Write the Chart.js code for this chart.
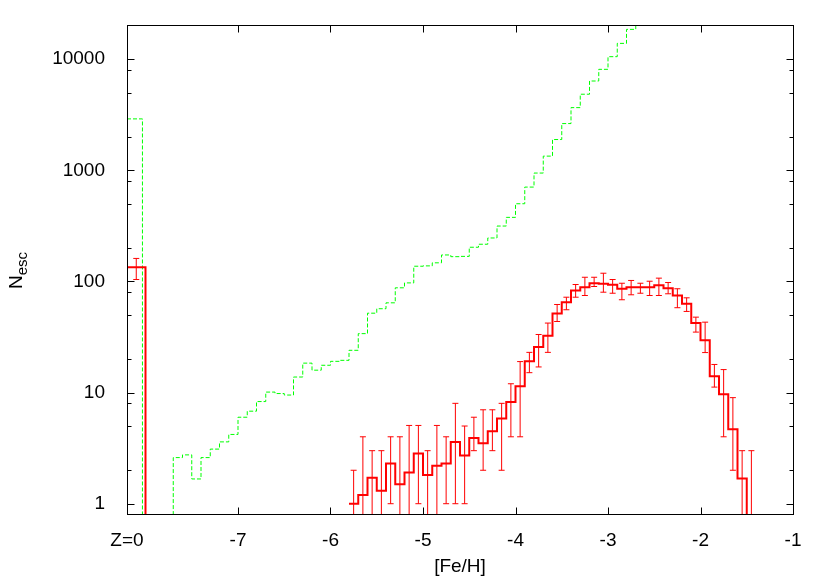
<!DOCTYPE html>
<html>
<head>
<meta charset="utf-8">
<script src="https://cdn.jsdelivr.net/npm/chart.js@4.4.0/dist/chart.umd.min.js"></script>
<style>
  html, body { margin: 0; padding: 0; background: #fff; }
</style>
</head>
<body>
<canvas id="escChart" width="830" height="581"></canvas>
<script>
// histogram bins are 0.1 dex wide, values start at the given left edge
const binWidth = 0.1;

// Z=0 (metal-free) bin sits at the left edge of the axis
const zeroBinLeft = -8.2;
const redZeroRight = -8.0;
const greenZeroRight = -8.033;
const greenZeroValue = 2900;
const redZeroValue = 134;
const redZeroErr = [104, 161];

const greenStart = -7.7;
const greenValues = [
  2.6, 2.75, 1.67, 2.6, 3.1, 3.6, 4.2, 6.0, 6.8, 8.3,
  10.1, 9.8, 9.5, 13.8, 18.4, 15.9, 17.6, 19.1, 19.5, 24.0,
  33.9, 51.8, 56.8, 64.2, 87.6, 97, 137, 138, 147, 173,
  167, 168, 203, 216, 246, 315, 377, 500, 706, 944,
  1341, 1891, 2632, 3663, 4833, 6357, 8095, 10520, 13860, 18530,
  24000, 31000
];

const redStart = -5.8;
const redValues = [
  1.0, 1.2, 1.71, 1.31, 2.3, 1.5, 1.91, 2.83, 1.81, 2.19,
  2.3, 3.6, 2.72, 3.91, 3.5, 4.49, 5.84, 8.23, 11.4, 19.1,
  25.7, 32.5, 51.5, 65.1, 82.8, 88.7, 96.3, 95.1, 93.2, 85.9,
  88.7, 88.7, 88.7, 92.4, 86.9, 74.7, 62.9, 42.2, 29.5, 14.0,
  9.66, 4.68, 1.69, 0.5
];
const redLow = [
  0.3, 0.3, 0.3, 0.3, 1.0, 0.3, 0.3, 1.0, 0.3, 0.3,
  1.0, 1.0, 1.0, 3.0, 2.0, 3.0, 2.0, 4.0, 4.0, 15.1,
  17.0, 23.0, 43.6, 55.6, 72.1, 74.7, 90, 80, 78.3, 68.4,
  75.8, 78.3, 74.7, 74.7, 77.4, 58, 53.7, 35, 22.9, 11.2,
  4.0, 2.0, 0.3, 0.3
];
const redHigh = [
  2.0, 4.0, 3.0, 3.0, 4.0, 4.0, 5.06, 5.06, 3.0, 5.06,
  4.0, 8.0, 5.0, 6.0, 7.0, 7.0, 8.0, 12.0, 19.0, 23.0,
  33.3, 42.2, 62, 72.1, 93.8, 109, 109, 118.5, 104, 96.3,
  102, 96.3, 100.4, 107, 97.8, 85.9, 71.2, 47.7, 43, 17.9,
  16.1, 9.0, 3.0, 3.0
];

const xTicks = [-8.2, -7, -6, -5, -4, -3, -2, -1];
const xTickLabels = ['Z=0', '-7', '-6', '-5', '-4', '-3', '-2', '-1'];
const yTicks = [1, 10, 100, 1000, 10000];
const yTickLabels = ['1', '10', '100', '1000', '10000'];
const yMinorTicks = [2, 5, 8, 20, 50, 80, 200, 500, 800, 2000, 5000, 8000];

const FONT = '"Liberation Sans", Arial, Helvetica, sans-serif';

function stepPoints(start, values) {
  const pts = values.map((v, i) => ({ x: +(start + i * binWidth).toFixed(3), y: v }));
  pts.push({ x: +(start + values.length * binWidth).toFixed(3), y: values[values.length - 1] });
  return pts;
}

const redData = stepPoints(redStart, redValues);
const redZeroData = [{ x: zeroBinLeft, y: redZeroValue }, { x: redZeroRight, y: 0.1 }];
const greenData = [{ x: zeroBinLeft, y: greenZeroValue }, { x: greenZeroRight, y: 0.1 }]
  .concat(stepPoints(greenStart, greenValues));

// error bars for the red histogram, drawn at bin centres through the scales
const errorBars = {
  id: 'errorBars',
  afterDatasetsDraw(chart) {
    const { ctx, chartArea: a, scales: { x, y } } = chart;
    const bars = redValues.map((v, i) => ({
      cx: redStart + (i + 0.5) * binWidth, lo: redLow[i], hi: redHigh[i]
    }));
    bars.push({ cx: (zeroBinLeft + redZeroRight) / 2, lo: redZeroErr[0], hi: redZeroErr[1] });
    ctx.save();
    ctx.beginPath();
    ctx.rect(a.left, a.top, a.right - a.left, a.bottom - a.top);
    ctx.clip();
    ctx.strokeStyle = '#ff0000';
    ctx.lineWidth = 1;
    bars.forEach(b => {
      const px = x.getPixelForValue(b.cx);
      const y1 = y.getPixelForValue(b.lo);
      const y2 = y.getPixelForValue(b.hi);
      ctx.beginPath();
      ctx.moveTo(px, y1);
      ctx.lineTo(px, y2);
      ctx.moveTo(px - 3, y1);
      ctx.lineTo(px + 3, y1);
      ctx.moveTo(px - 3, y2);
      ctx.lineTo(px + 3, y2);
      ctx.stroke();
    });
    ctx.restore();
  }
};

// gnuplot-like frame with inward ticks on all four sides, plus the y title
const frameAndTicks = {
  id: 'frameAndTicks',
  afterDraw(chart) {
    const { ctx, chartArea: a, scales: { x, y } } = chart;
    const L = Math.floor(a.left) + 0.5, R = Math.floor(a.right) + 0.5;
    const T = Math.floor(a.top) + 0.5, B = Math.floor(a.bottom) + 0.5;
    ctx.save();
    ctx.strokeStyle = '#000';
    ctx.lineWidth = 1;
    ctx.strokeRect(L, T, R - L, B - T);
    ctx.beginPath();
    xTicks.forEach(v => {
      const px = Math.round(x.getPixelForValue(v)) + 0.5;
      if (px <= L + 1 || px >= R - 1) return;
      ctx.moveTo(px, B); ctx.lineTo(px, B - 7);
      ctx.moveTo(px, T); ctx.lineTo(px, T + 7);
    });
    yTicks.forEach(v => {
      const py = Math.round(y.getPixelForValue(v)) + 0.5;
      ctx.moveTo(L, py); ctx.lineTo(L + 7, py);
      ctx.moveTo(R, py); ctx.lineTo(R - 7, py);
    });
    yMinorTicks.forEach(v => {
      const py = Math.round(y.getPixelForValue(v)) + 0.5;
      ctx.moveTo(L, py); ctx.lineTo(L + 4, py);
      ctx.moveTo(R, py); ctx.lineTo(R - 4, py);
    });
    ctx.stroke();

    // N_esc with subscript
    ctx.translate(22, 289);
    ctx.rotate(-Math.PI / 2);
    ctx.fillStyle = '#000';
    ctx.textBaseline = 'alphabetic';
    ctx.font = '19px ' + FONT;
    ctx.fillText('N', 0, 0);
    const w = ctx.measureText('N').width;
    ctx.font = '15px ' + FONT;
    ctx.fillText('esc', w, 5);
    ctx.restore();
  }
};

new Chart(document.getElementById('escChart').getContext('2d'), {
  type: 'line',
  data: {
    datasets: [
      {
        label: 'escaped (errors)',
        data: redData,
        borderColor: '#ff0000',
        borderWidth: 2,
        stepped: 'before',
        pointRadius: 0,
        fill: false
      },
      {
        label: 'Z=0 escaped',
        data: redZeroData,
        borderColor: '#ff0000',
        borderWidth: 2,
        stepped: 'before',
        pointRadius: 0,
        fill: false
      },
      {
        label: 'all',
        data: greenData,
        borderColor: '#00ff00',
        borderWidth: 1,
        borderDash: [4, 2],
        stepped: 'before',
        pointRadius: 0,
        fill: false
      }
    ]
  },
  options: {
    responsive: false,
    animation: false,
    devicePixelRatio: 1,
    layout: { padding: { top: 24.5, right: 37, left: 0, bottom: 0 } },
    plugins: {
      legend: { display: false },
      tooltip: { enabled: false }
    },
    scales: {
      x: {
        type: 'linear',
        min: -8.2,
        max: -1,
        grid: { display: false },
        border: { display: false },
        afterBuildTicks: scale => { scale.ticks = xTicks.map(v => ({ value: v })); },
        afterFit: scale => { scale.height = 67; },
        ticks: {
          color: '#000',
          padding: 7,
          maxRotation: 0,
          autoSkip: false,
          font: { family: FONT, size: 19 },
          callback: (value, index) => xTickLabels[index]
        },
        title: {
          display: true,
          text: '[Fe/H]',
          color: '#000',
          font: { family: FONT, size: 19 },
          padding: { top: 0, bottom: 3 }
        }
      },
      y: {
        type: 'logarithmic',
        min: 0.808,
        max: 20115,
        grid: { display: false },
        border: { display: false },
        afterBuildTicks: scale => { scale.ticks = yTicks.map(v => ({ value: v })); },
        afterFit: scale => { scale.width = 127; },
        ticks: {
          color: '#000',
          padding: 14,
          autoSkip: false,
          font: { family: FONT, size: 19 },
          callback: (value, index) => yTickLabels[index]
        }
      }
    }
  },
  plugins: [errorBars, frameAndTicks]
});
</script>
</body>
</html>
